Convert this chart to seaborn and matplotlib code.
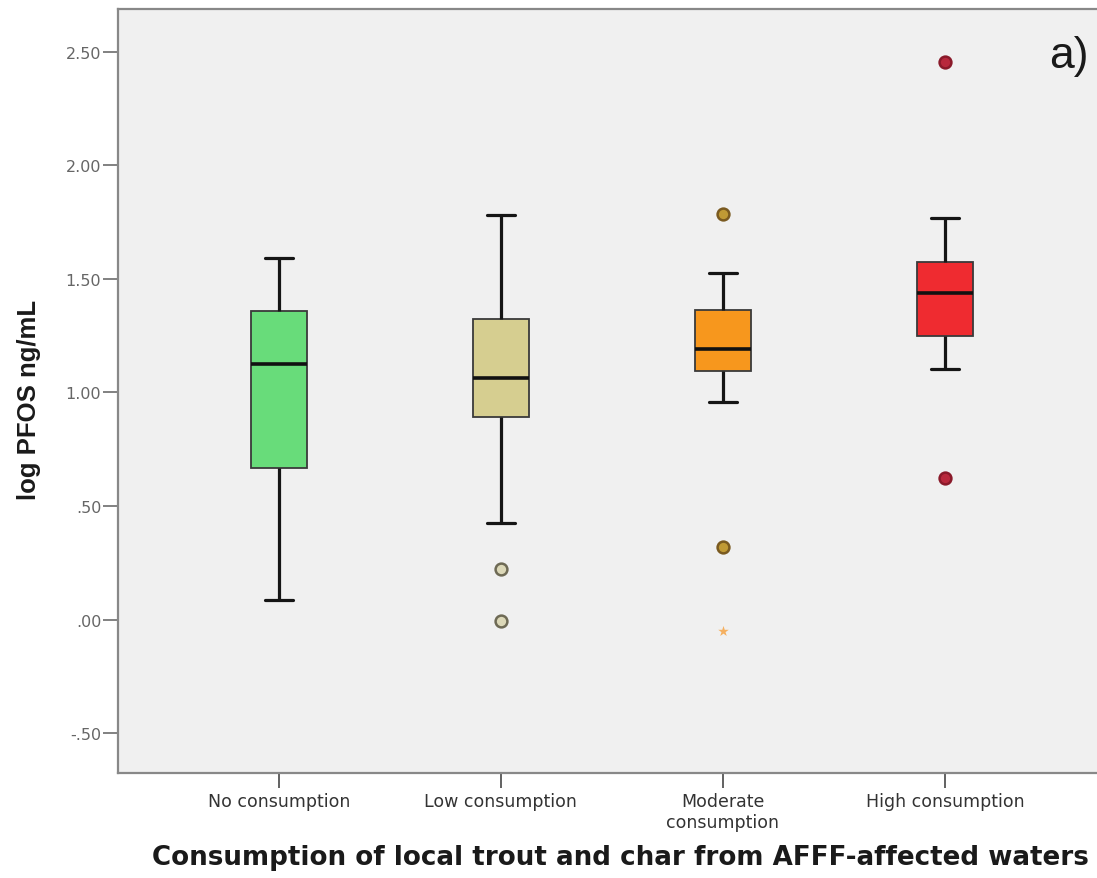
import numpy as np
import pandas as pd
import matplotlib
matplotlib.use("Agg")
import matplotlib.pyplot as plt
import seaborn as sns

# Consumption groups (x categories)
groups = ["No consumption", "Low consumption", "Moderate\nconsumption", "High consumption"]

# Box summaries per group: lower whisker, Q1, median, Q3, upper whisker (log PFOS ng/mL)
whisker_low = [0.085, 0.426, 0.956, 1.105]
q1 = [0.669, 0.892, 1.095, 1.248]
median = [1.124, 1.064, 1.192, 1.436]
q3 = [1.358, 1.324, 1.364, 1.576]
whisker_high = [1.593, 1.780, 1.526, 1.768]

# Outliers (circles) and extreme values (stars)
outlier_group = ["Low consumption", "Low consumption",
                 "Moderate\nconsumption", "Moderate\nconsumption",
                 "High consumption", "High consumption"]
outlier_value = [0.223, -0.004, 1.786, 0.321, 2.454, 0.624]
extreme_group = ["Moderate\nconsumption"]
extreme_value = [-0.048]

y_ticks = [-0.5, 0.0, 0.5, 1.0, 1.5, 2.0, 2.5]
y_tick_labels = ["-.50", ".00", ".50", "1.00", "1.50", "2.00", "2.50"]

box_colors = ["#68dc7a", "#d6ce90", "#f7971d", "#ef2b30"]
outlier_face = {"Low consumption": "#dcd8b8", "Moderate\nconsumption": "#c09a35",
                "High consumption": "#b8283c"}
outlier_edge = {"Low consumption": "#6e6a55", "Moderate\nconsumption": "#7a5a20",
                "High consumption": "#8a1a2a"}

sns.set_style("white")
plt.rcParams["font.family"] = ["DejaVu Sans"]

# Long table of box summaries (five values per group give exact quartiles)
rows = []
for g, a, b, c, d, e in zip(groups, whisker_low, q1, median, q3, whisker_high):
    for v in (a, b, c, d, e):
        rows.append({"group": g, "value": v})
box_df = pd.DataFrame(rows)
out_df = pd.DataFrame({"group": outlier_group, "value": outlier_value})
ext_df = pd.DataFrame({"group": extreme_group, "value": extreme_value})

fig = plt.figure(figsize=(10.97, 8.79), dpi=100)
fig.patch.set_facecolor("white")
ax = fig.add_axes([118 / 1097, 1 - 774 / 879, 990 / 1097, 764 / 879])
ax.set_facecolor("#f0f0f0")

sns.boxplot(
    data=box_df, x="group", y="value", hue="group", order=groups, hue_order=groups,
    palette=box_colors, width=0.25, whis=(0, 100), showfliers=False,
    saturation=1, legend=False, ax=ax,
    boxprops=dict(edgecolor="#3a3a3a", linewidth=1.3),
    whiskerprops=dict(color="#151515", linewidth=2.3),
    capprops=dict(color="#151515", linewidth=2.3),
    medianprops=dict(color="#111111", linewidth=2.6),
)

for g in outlier_face:
    sub = out_df[out_df["group"] == g]
    sns.stripplot(data=sub, x="group", y="value", order=groups, jitter=False,
                  color=outlier_face[g], edgecolor=outlier_edge[g], linewidth=1.8,
                  size=8.5, ax=ax, zorder=5)

sns.stripplot(data=ext_df, x="group", y="value", order=groups, jitter=False,
              color="#f5b060", marker="*", size=8, ax=ax, zorder=5)

ax.set_xlim(-0.725, 3.735)
ax.set_ylim(-0.674, 2.687)
ax.set_yticks(y_ticks)
ax.set_yticklabels(y_tick_labels)
ax.tick_params(axis="y", direction="out", length=11, width=1.3, color="#777777",
               labelsize=11.5, labelcolor="#666666", pad=1, left=True)
ax.tick_params(axis="x", direction="out", length=11, width=1.3, color="#555555",
               labelsize=12.5, labelcolor="#333333", pad=3, bottom=True)

for side in ["left", "right", "top", "bottom"]:
    ax.spines[side].set_visible(True)
    ax.spines[side].set_color("#888888")
    ax.spines[side].set_linewidth(1.6)

ax.set_ylabel("log PFOS ng/mL", fontsize=18.5, fontweight="bold", color="#1a1a1a",
              family=["Liberation Sans", "DejaVu Sans"])
ax.yaxis.set_label_coords(-0.078, 0.49)
ax.set_xlabel("Consumption of local trout and char from AFFF-affected waters",
              fontsize=18.8, fontweight="bold", color="#1a1a1a")
ax.xaxis.set_label_coords(0.508, -0.093)

ax.text(0.98, 0.966, "a)", transform=ax.transAxes, fontsize=32, color="#1a1a1a",
        ha="right", va="top", family=["Liberation Sans", "DejaVu Sans"])

fig.savefig("out.png", dpi=100)
